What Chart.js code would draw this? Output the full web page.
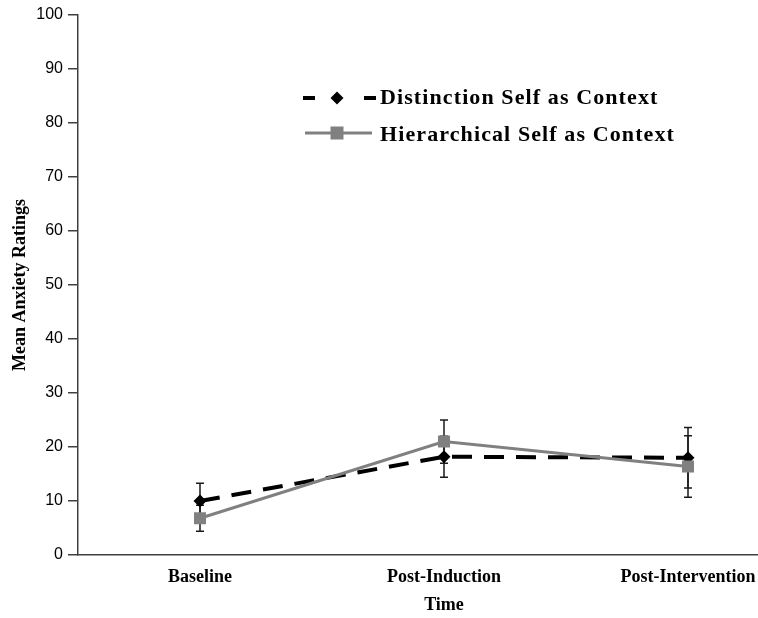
<!DOCTYPE html>
<html><head><meta charset="utf-8">
<script src="https://cdn.jsdelivr.net/npm/chart.js@4"></script>
<style>html,body{margin:0;padding:0;background:#fff;overflow:hidden;width:758px;height:618px}#wrap{width:810px;height:618px}</style>
</head><body><div id="wrap"><canvas id="c" width="810" height="618"></canvas></div>
<script>
const categories = ["Baseline", "Post-Induction", "Post-Intervention"];
const seriesNames = ["Distinction Self as Context", "Hierarchical Self as Context"];
const distinctionMeans = [10.0, 18.2, 18.0];
const distinctionErrors = [3.3, 3.8, 5.6];
const hierarchicalMeans = [6.8, 21.0, 16.4];
const hierarchicalErrors = [2.4, 4.0, 5.7];
const yTicks = [0, 10, 20, 30, 40, 50, 60, 70, 80, 90, 100];

const SERIF = '"Liberation Serif", "Times New Roman", serif';

const errorBars = {
  id: 'errorBars',
  beforeDatasetsDraw(chart) {
    const ctx = chart.ctx, xs = chart.scales.x, ys = chart.scales.y;
    const sets = [[distinctionMeans, distinctionErrors], [hierarchicalMeans, hierarchicalErrors]];
    ctx.save();
    ctx.strokeStyle = '#1a1a1a';
    ctx.lineWidth = 1.5;
    sets.forEach(([m, e]) => {
      m.forEach((v, i) => {
        const x = xs.getPixelForValue(i);
        const yt = ys.getPixelForValue(v + e[i]);
        const yb = ys.getPixelForValue(v - e[i]);
        ctx.beginPath();
        ctx.moveTo(x, yt); ctx.lineTo(x, yb);
        ctx.moveTo(x - 4, yt); ctx.lineTo(x + 4, yt);
        ctx.moveTo(x - 4, yb); ctx.lineTo(x + 4, yb);
        ctx.stroke();
      });
    });
    ctx.restore();
  }
};

const customLegend = {
  id: 'customLegend',
  afterDraw(chart) {
    const ctx = chart.ctx;
    ctx.save();
    const xm = 337, tx = 380;
    const rows = [98, 133];
    // row 1: dashed black with diamond
    ctx.strokeStyle = '#000'; ctx.lineWidth = 4;
    ctx.beginPath(); ctx.moveTo(303, rows[0]); ctx.lineTo(315, rows[0]);
    ctx.moveTo(364, rows[0]); ctx.lineTo(376, rows[0]); ctx.stroke();
    ctx.fillStyle = '#000';
    ctx.beginPath(); ctx.moveTo(xm, rows[0] - 6.5); ctx.lineTo(xm + 6.5, rows[0]);
    ctx.lineTo(xm, rows[0] + 6.5); ctx.lineTo(xm - 6.5, rows[0]); ctx.closePath(); ctx.fill();
    // row 2: gray line with square
    ctx.strokeStyle = '#808080'; ctx.lineWidth = 3;
    ctx.beginPath(); ctx.moveTo(305, rows[1]); ctx.lineTo(372, rows[1]); ctx.stroke();
    ctx.fillStyle = '#808080';
    ctx.fillRect(xm - 6.5, rows[1] - 6.5, 13, 13);
    // text
    ctx.fillStyle = '#000';
    ctx.font = 'bold 22px ' + SERIF;
    try { ctx.letterSpacing = '1.1px'; } catch (e) {}
    ctx.textBaseline = 'alphabetic';
    ctx.textAlign = 'left';
    ctx.fillText(seriesNames[0], tx, 104);
    ctx.fillText(seriesNames[1], tx, 141);
    ctx.restore();
  }
};

const AXIS_LEFT = 78;
new Chart(document.getElementById('c'), {
  type: 'line',
  data: {
    labels: categories,
    datasets: [
      {
        label: seriesNames[0], data: distinctionMeans, order: 1,
        borderColor: '#000', backgroundColor: '#000', borderWidth: 4,
        borderDash: [20, 12], pointStyle: 'rectRot', pointRadius: 6.5,
        pointBorderWidth: 0, pointHoverRadius: 6.5, tension: 0
      },
      {
        label: seriesNames[1], data: hierarchicalMeans, order: 0,
        borderColor: '#808080', backgroundColor: '#808080', borderWidth: 3,
        pointStyle: 'rect', pointRadius: 8.5, pointBorderWidth: 0,
        pointHoverRadius: 8.5, tension: 0
      }
    ]
  },
  options: {
    responsive: false, animation: false,
    layout: {padding: {left: 0, right: 0, top: 15, bottom: 0}, autoPadding: false},
    plugins: {legend: {display: false}, tooltip: {enabled: false}},
    scales: {
      x: {
        type: 'category', offset: true,
        afterFit: s => { s.height = 63; s.paddingLeft = 0; s.paddingRight = 0; },
        ticks: {
          font: {family: SERIF, size: 18, weight: 'bold'},
          color: '#000', padding: 12, maxRotation: 0, autoSkip: false
        },
        grid: {display: true, drawOnChartArea: false, drawTicks: false, offset: false, color: 'rgba(0,0,0,0)'},
        border: {display: true, color: '#404040', width: 1.5},
        title: {
          display: true, text: 'Time', color: '#000',
          font: {family: SERIF, size: 18, weight: 'bold'},
          padding: {top: 0, bottom: 2}
        }
      },
      y: {
        min: 0, max: 100,
        afterBuildTicks: s => { s.ticks = yTicks.map(v => ({value: v})); },
        afterFit: s => { s.width = AXIS_LEFT; s.paddingTop = 0; s.paddingBottom = 0; },
        ticks: {
          font: {family: '"Liberation Sans", Arial, sans-serif', size: 16},
          color: '#000', padding: 5
        },
        grid: {display: true, drawOnChartArea: false, drawTicks: true, tickLength: 10, color: '#404040', lineWidth: 1.5},
        border: {display: true, color: '#404040', width: 1.5},
        title: {
          display: true, text: 'Mean Anxiety Ratings', color: '#000',
          font: {family: SERIF, size: 18, weight: 'bold'},
          padding: {top: 10, bottom: 0}
        }
      }
    }
  },
  plugins: [errorBars, customLegend]
});
</script></body></html>
